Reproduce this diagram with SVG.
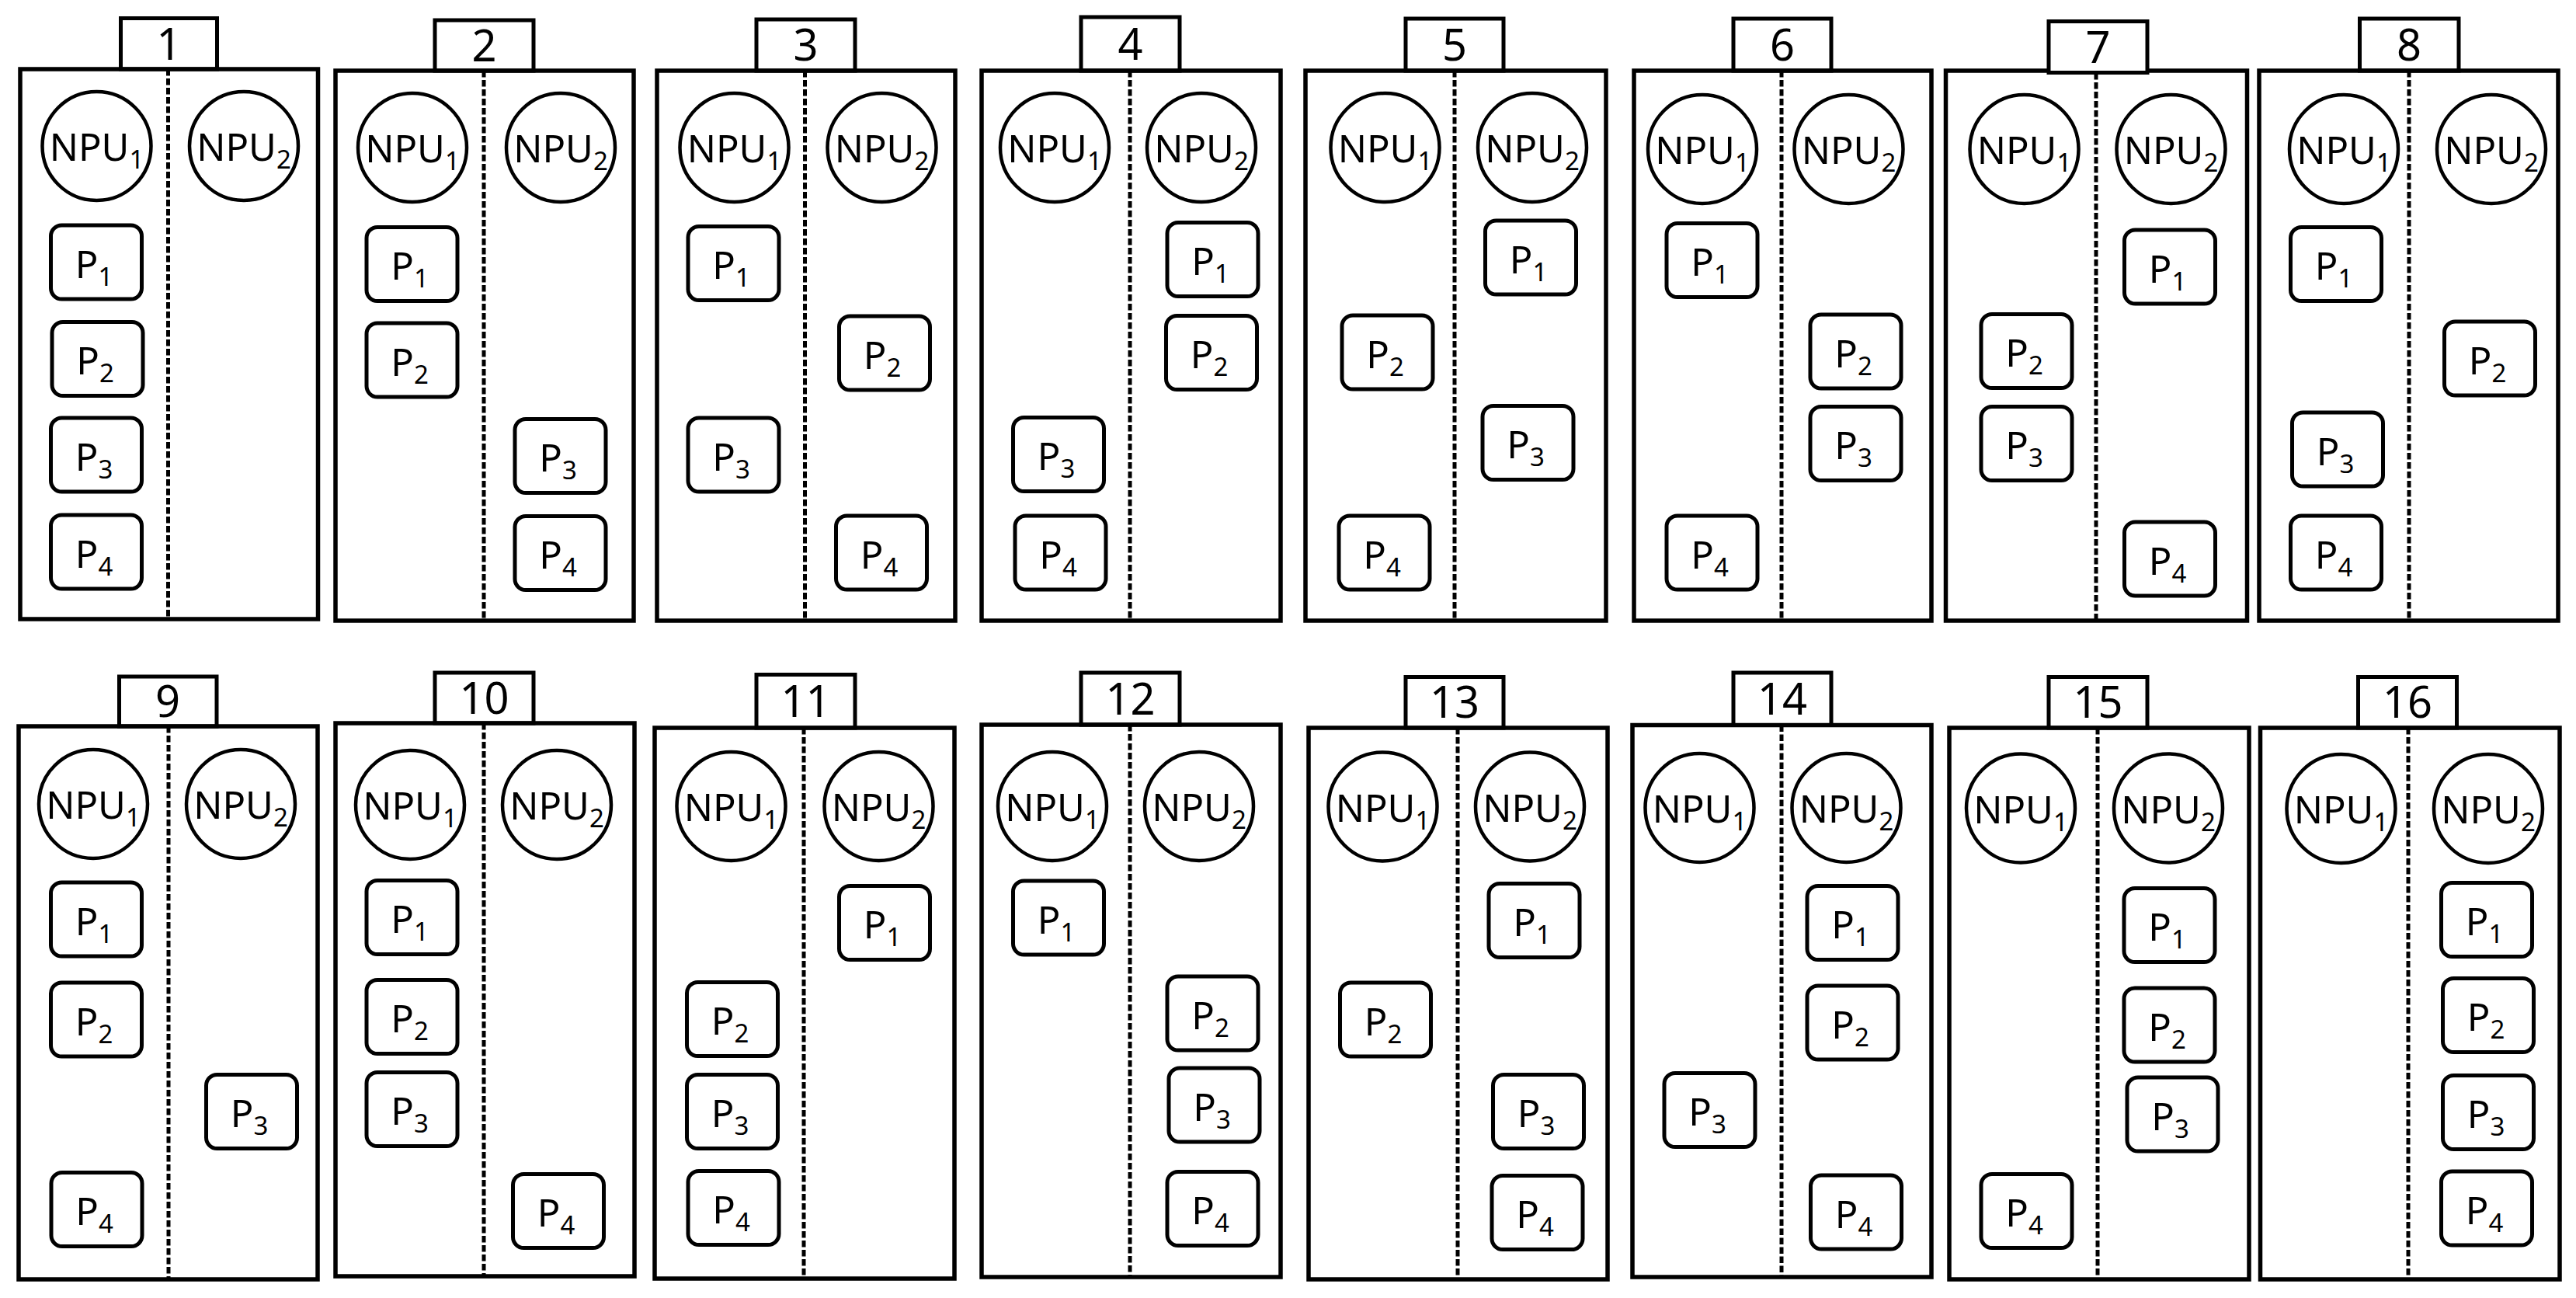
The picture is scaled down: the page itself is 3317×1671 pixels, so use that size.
<svg xmlns="http://www.w3.org/2000/svg" width="3317" height="1671" viewBox="0 0 3317 1671">
<style>
.box{fill:none;stroke:#000;stroke-width:5.5}
.tab{fill:#fff;stroke:#000;stroke-width:5}
.div{stroke:#000;stroke-width:5;stroke-dasharray:8.5 3.5}
.npu{fill:none;stroke:#000;stroke-width:4.5}
.p{fill:none;stroke:#000;stroke-width:5}
text{font-family:"Noto Sans","Open Sans",sans-serif;fill:#000}
.lbl{font-size:49px;text-anchor:middle}
.num{font-size:56px;text-anchor:middle}
.sub{font-size:33px}
</style>
<rect width="3317" height="1671" fill="#fff"/>
<g id="connectors"/>

<g id="panel1">
<rect class="tab" x="155.5" y="23.5" width="124" height="65.5"/>
<rect class="box" x="26" y="89" width="383.5" height="708"/>
<line class="div" x1="216.5" y1="89" x2="216.5" y2="797"/>
<text class="num" x="217.5" y="77">1</text>
<g id="panel1-npu1"><circle class="npu" cx="124.5" cy="188" r="70"/><text class="lbl" x="124.5" y="207">NPU<tspan class="sub" dy="10">1</tspan></text></g>
<g id="panel1-npu2"><circle class="npu" cx="314" cy="188" r="70"/><text class="lbl" x="314" y="207">NPU<tspan class="sub" dy="10">2</tspan></text></g>
<g id="panel1-p1"><rect class="p" x="65.5" y="290" width="117" height="95" rx="14"/><text class="lbl" x="121" y="357.5">P<tspan class="sub" dy="10">1</tspan></text></g>
<g id="panel1-p2"><rect class="p" x="67" y="414.5" width="117" height="95" rx="14"/><text class="lbl" x="122.5" y="482">P<tspan class="sub" dy="10">2</tspan></text></g>
<g id="panel1-p3"><rect class="p" x="65.5" y="538" width="117" height="95" rx="14"/><text class="lbl" x="121" y="605.5">P<tspan class="sub" dy="10">3</tspan></text></g>
<g id="panel1-p4"><rect class="p" x="65.5" y="663" width="117" height="95" rx="14"/><text class="lbl" x="121" y="730.5">P<tspan class="sub" dy="10">4</tspan></text></g>
</g>

<g id="panel2">
<rect class="tab" x="560" y="26" width="127" height="65"/>
<rect class="box" x="432" y="91" width="384" height="708"/>
<line class="div" x1="623" y1="91" x2="623" y2="799"/>
<text class="num" x="623.5" y="78.5">2</text>
<g id="panel2-npu1"><circle class="npu" cx="531" cy="190" r="70"/><text class="lbl" x="531" y="209">NPU<tspan class="sub" dy="10">1</tspan></text></g>
<g id="panel2-npu2"><circle class="npu" cx="722" cy="190" r="70"/><text class="lbl" x="722" y="209">NPU<tspan class="sub" dy="10">2</tspan></text></g>
<g id="panel2-p1"><rect class="p" x="472" y="292.5" width="117" height="95" rx="14"/><text class="lbl" x="527.5" y="360">P<tspan class="sub" dy="10">1</tspan></text></g>
<g id="panel2-p2"><rect class="p" x="472" y="416" width="117" height="95" rx="14"/><text class="lbl" x="527.5" y="483.5">P<tspan class="sub" dy="10">2</tspan></text></g>
<g id="panel2-p3"><rect class="p" x="663" y="539.5" width="117" height="95" rx="14"/><text class="lbl" x="718.5" y="607">P<tspan class="sub" dy="10">3</tspan></text></g>
<g id="panel2-p4"><rect class="p" x="663" y="664.5" width="117" height="95" rx="14"/><text class="lbl" x="718.5" y="732">P<tspan class="sub" dy="10">4</tspan></text></g>
</g>

<g id="panel3">
<rect class="tab" x="974" y="25" width="127" height="66"/>
<rect class="box" x="846" y="91" width="384" height="708"/>
<line class="div" x1="1036.5" y1="91" x2="1036.5" y2="799"/>
<text class="num" x="1037.5" y="78">3</text>
<g id="panel3-npu1"><circle class="npu" cx="945.5" cy="190" r="70"/><text class="lbl" x="945.5" y="209">NPU<tspan class="sub" dy="10">1</tspan></text></g>
<g id="panel3-npu2"><circle class="npu" cx="1135.5" cy="190" r="70"/><text class="lbl" x="1135.5" y="209">NPU<tspan class="sub" dy="10">2</tspan></text></g>
<g id="panel3-p1"><rect class="p" x="886" y="291.5" width="117" height="95" rx="14"/><text class="lbl" x="941.5" y="359">P<tspan class="sub" dy="10">1</tspan></text></g>
<g id="panel3-p2"><rect class="p" x="1080.5" y="407" width="117" height="95" rx="14"/><text class="lbl" x="1136" y="474.5">P<tspan class="sub" dy="10">2</tspan></text></g>
<g id="panel3-p3"><rect class="p" x="886" y="538" width="117" height="95" rx="14"/><text class="lbl" x="941.5" y="605.5">P<tspan class="sub" dy="10">3</tspan></text></g>
<g id="panel3-p4"><rect class="p" x="1076.5" y="664" width="117" height="95" rx="14"/><text class="lbl" x="1132" y="731.5">P<tspan class="sub" dy="10">4</tspan></text></g>
</g>

<g id="panel4">
<rect class="tab" x="1392" y="22" width="127" height="69"/>
<rect class="box" x="1264" y="91" width="385" height="708"/>
<line class="div" x1="1455" y1="91" x2="1455" y2="799"/>
<text class="num" x="1455.5" y="76.5">4</text>
<g id="panel4-npu1"><circle class="npu" cx="1358" cy="190" r="70"/><text class="lbl" x="1358" y="209">NPU<tspan class="sub" dy="10">1</tspan></text></g>
<g id="panel4-npu2"><circle class="npu" cx="1547" cy="190" r="70"/><text class="lbl" x="1547" y="209">NPU<tspan class="sub" dy="10">2</tspan></text></g>
<g id="panel4-p1"><rect class="p" x="1503" y="286.5" width="117" height="95" rx="14"/><text class="lbl" x="1558.5" y="354">P<tspan class="sub" dy="10">1</tspan></text></g>
<g id="panel4-p2"><rect class="p" x="1501.5" y="406.5" width="117" height="95" rx="14"/><text class="lbl" x="1557" y="474">P<tspan class="sub" dy="10">2</tspan></text></g>
<g id="panel4-p3"><rect class="p" x="1304.5" y="537.5" width="117" height="95" rx="14"/><text class="lbl" x="1360" y="605">P<tspan class="sub" dy="10">3</tspan></text></g>
<g id="panel4-p4"><rect class="p" x="1307" y="664" width="117" height="95" rx="14"/><text class="lbl" x="1362.5" y="731.5">P<tspan class="sub" dy="10">4</tspan></text></g>
</g>

<g id="panel5">
<rect class="tab" x="1810" y="24" width="126" height="67"/>
<rect class="box" x="1681" y="91" width="387" height="708"/>
<line class="div" x1="1873" y1="91" x2="1873" y2="799"/>
<text class="num" x="1873" y="77.5">5</text>
<g id="panel5-npu1"><circle class="npu" cx="1783.5" cy="190" r="70"/><text class="lbl" x="1783.5" y="209">NPU<tspan class="sub" dy="10">1</tspan></text></g>
<g id="panel5-npu2"><circle class="npu" cx="1973" cy="190" r="70"/><text class="lbl" x="1973" y="209">NPU<tspan class="sub" dy="10">2</tspan></text></g>
<g id="panel5-p1"><rect class="p" x="1912.5" y="284" width="117" height="95" rx="14"/><text class="lbl" x="1968" y="351.5">P<tspan class="sub" dy="10">1</tspan></text></g>
<g id="panel5-p2"><rect class="p" x="1728" y="406" width="117" height="95" rx="14"/><text class="lbl" x="1783.5" y="473.5">P<tspan class="sub" dy="10">2</tspan></text></g>
<g id="panel5-p3"><rect class="p" x="1909" y="522.5" width="117" height="95" rx="14"/><text class="lbl" x="1964.5" y="590">P<tspan class="sub" dy="10">3</tspan></text></g>
<g id="panel5-p4"><rect class="p" x="1724" y="664" width="117" height="95" rx="14"/><text class="lbl" x="1779.5" y="731.5">P<tspan class="sub" dy="10">4</tspan></text></g>
</g>

<g id="panel6">
<rect class="tab" x="2232" y="24" width="126" height="67"/>
<rect class="box" x="2104" y="91" width="383" height="708"/>
<line class="div" x1="2294" y1="91" x2="2294" y2="799"/>
<text class="num" x="2295" y="77.5">6</text>
<g id="panel6-npu1"><circle class="npu" cx="2192" cy="192" r="70"/><text class="lbl" x="2192" y="211">NPU<tspan class="sub" dy="10">1</tspan></text></g>
<g id="panel6-npu2"><circle class="npu" cx="2380.5" cy="192" r="70"/><text class="lbl" x="2380.5" y="211">NPU<tspan class="sub" dy="10">2</tspan></text></g>
<g id="panel6-p1"><rect class="p" x="2146" y="287.5" width="117" height="95" rx="14"/><text class="lbl" x="2201.5" y="355">P<tspan class="sub" dy="10">1</tspan></text></g>
<g id="panel6-p2"><rect class="p" x="2331" y="405" width="117" height="95" rx="14"/><text class="lbl" x="2386.5" y="472.5">P<tspan class="sub" dy="10">2</tspan></text></g>
<g id="panel6-p3"><rect class="p" x="2331" y="523.5" width="117" height="95" rx="14"/><text class="lbl" x="2386.5" y="591">P<tspan class="sub" dy="10">3</tspan></text></g>
<g id="panel6-p4"><rect class="p" x="2146" y="664" width="117" height="95" rx="14"/><text class="lbl" x="2201.5" y="731.5">P<tspan class="sub" dy="10">4</tspan></text></g>
</g>

<g id="panel7">
<rect class="box" x="2505.5" y="91" width="388" height="708"/>
<rect class="tab" x="2638" y="27.5" width="127" height="66"/>
<line class="div" x1="2699" y1="94" x2="2699" y2="799"/>
<text class="num" x="2701.5" y="80.5">7</text>
<g id="panel7-npu1"><circle class="npu" cx="2606.5" cy="192" r="70"/><text class="lbl" x="2606.5" y="211">NPU<tspan class="sub" dy="10">1</tspan></text></g>
<g id="panel7-npu2"><circle class="npu" cx="2795.5" cy="192" r="70"/><text class="lbl" x="2795.5" y="211">NPU<tspan class="sub" dy="10">2</tspan></text></g>
<g id="panel7-p1"><rect class="p" x="2735.5" y="296" width="117" height="95" rx="14"/><text class="lbl" x="2791" y="363.5">P<tspan class="sub" dy="10">1</tspan></text></g>
<g id="panel7-p2"><rect class="p" x="2551" y="404.5" width="117" height="95" rx="14"/><text class="lbl" x="2606.5" y="472">P<tspan class="sub" dy="10">2</tspan></text></g>
<g id="panel7-p3"><rect class="p" x="2551" y="523.5" width="117" height="95" rx="14"/><text class="lbl" x="2606.5" y="591">P<tspan class="sub" dy="10">3</tspan></text></g>
<g id="panel7-p4"><rect class="p" x="2735.5" y="672" width="117" height="95" rx="14"/><text class="lbl" x="2791" y="739.5">P<tspan class="sub" dy="10">4</tspan></text></g>
</g>

<g id="panel8">
<rect class="tab" x="3038.5" y="24" width="127.5" height="67"/>
<rect class="box" x="2909" y="91" width="385" height="708"/>
<line class="div" x1="3102" y1="91" x2="3102" y2="799"/>
<text class="num" x="3102" y="77.5">8</text>
<g id="panel8-npu1"><circle class="npu" cx="3018" cy="192" r="70"/><text class="lbl" x="3018" y="211">NPU<tspan class="sub" dy="10">1</tspan></text></g>
<g id="panel8-npu2"><circle class="npu" cx="3208" cy="192" r="70"/><text class="lbl" x="3208" y="211">NPU<tspan class="sub" dy="10">2</tspan></text></g>
<g id="panel8-p1"><rect class="p" x="2949.5" y="292.5" width="117" height="95" rx="14"/><text class="lbl" x="3005" y="360">P<tspan class="sub" dy="10">1</tspan></text></g>
<g id="panel8-p2"><rect class="p" x="3147.5" y="414" width="117" height="95" rx="14"/><text class="lbl" x="3203" y="481.5">P<tspan class="sub" dy="10">2</tspan></text></g>
<g id="panel8-p3"><rect class="p" x="2951.5" y="531" width="117" height="95" rx="14"/><text class="lbl" x="3007" y="598.5">P<tspan class="sub" dy="10">3</tspan></text></g>
<g id="panel8-p4"><rect class="p" x="2949.5" y="664" width="117" height="95" rx="14"/><text class="lbl" x="3005" y="731.5">P<tspan class="sub" dy="10">4</tspan></text></g>
</g>

<g id="panel9">
<rect class="tab" x="153.5" y="871" width="125.5" height="64"/>
<rect class="box" x="24" y="935" width="385" height="712"/>
<line class="div" x1="217" y1="935" x2="217" y2="1647"/>
<text class="num" x="216" y="923">9</text>
<g id="panel9-npu1"><circle class="npu" cx="120" cy="1035" r="70"/><text class="lbl" x="120" y="1054">NPU<tspan class="sub" dy="10">1</tspan></text></g>
<g id="panel9-npu2"><circle class="npu" cx="310" cy="1035" r="70"/><text class="lbl" x="310" y="1054">NPU<tspan class="sub" dy="10">2</tspan></text></g>
<g id="panel9-p1"><rect class="p" x="65.5" y="1136" width="117" height="95" rx="14"/><text class="lbl" x="121" y="1203.5">P<tspan class="sub" dy="10">1</tspan></text></g>
<g id="panel9-p2"><rect class="p" x="65.5" y="1265" width="117" height="95" rx="14"/><text class="lbl" x="121" y="1332.5">P<tspan class="sub" dy="10">2</tspan></text></g>
<g id="panel9-p3"><rect class="p" x="265.5" y="1383.5" width="117" height="95" rx="14"/><text class="lbl" x="321" y="1451">P<tspan class="sub" dy="10">3</tspan></text></g>
<g id="panel9-p4"><rect class="p" x="66" y="1509.5" width="117" height="95" rx="14"/><text class="lbl" x="121.5" y="1577">P<tspan class="sub" dy="10">4</tspan></text></g>
</g>

<g id="panel10">
<rect class="tab" x="560" y="866" width="127" height="65"/>
<rect class="box" x="432" y="931" width="385" height="712"/>
<line class="div" x1="623" y1="931" x2="623" y2="1643"/>
<text class="num" x="623.5" y="918.5">10</text>
<g id="panel10-npu1"><circle class="npu" cx="528" cy="1036" r="70"/><text class="lbl" x="528" y="1055">NPU<tspan class="sub" dy="10">1</tspan></text></g>
<g id="panel10-npu2"><circle class="npu" cx="717" cy="1036" r="70"/><text class="lbl" x="717" y="1055">NPU<tspan class="sub" dy="10">2</tspan></text></g>
<g id="panel10-p1"><rect class="p" x="472" y="1133.5" width="117" height="95" rx="14"/><text class="lbl" x="527.5" y="1201">P<tspan class="sub" dy="10">1</tspan></text></g>
<g id="panel10-p2"><rect class="p" x="472" y="1261.5" width="117" height="95" rx="14"/><text class="lbl" x="527.5" y="1329">P<tspan class="sub" dy="10">2</tspan></text></g>
<g id="panel10-p3"><rect class="p" x="472" y="1380.5" width="117" height="95" rx="14"/><text class="lbl" x="527.5" y="1448">P<tspan class="sub" dy="10">3</tspan></text></g>
<g id="panel10-p4"><rect class="p" x="660.5" y="1511.5" width="117" height="95" rx="14"/><text class="lbl" x="716" y="1579">P<tspan class="sub" dy="10">4</tspan></text></g>
</g>

<g id="panel11">
<rect class="tab" x="974" y="868.5" width="127" height="68.5"/>
<rect class="box" x="843" y="937" width="386" height="709"/>
<line class="div" x1="1035" y1="937" x2="1035" y2="1646"/>
<text class="num" x="1037.5" y="922.5">11</text>
<g id="panel11-npu1"><circle class="npu" cx="941.5" cy="1038" r="70"/><text class="lbl" x="941.5" y="1057">NPU<tspan class="sub" dy="10">1</tspan></text></g>
<g id="panel11-npu2"><circle class="npu" cx="1131.5" cy="1038" r="70"/><text class="lbl" x="1131.5" y="1057">NPU<tspan class="sub" dy="10">2</tspan></text></g>
<g id="panel11-p1"><rect class="p" x="1080.5" y="1140.5" width="117" height="95" rx="14"/><text class="lbl" x="1136" y="1208">P<tspan class="sub" dy="10">1</tspan></text></g>
<g id="panel11-p2"><rect class="p" x="884.5" y="1264.5" width="117" height="95" rx="14"/><text class="lbl" x="940" y="1332">P<tspan class="sub" dy="10">2</tspan></text></g>
<g id="panel11-p3"><rect class="p" x="884.5" y="1383.5" width="117" height="95" rx="14"/><text class="lbl" x="940" y="1451">P<tspan class="sub" dy="10">3</tspan></text></g>
<g id="panel11-p4"><rect class="p" x="886" y="1507.5" width="117" height="95" rx="14"/><text class="lbl" x="941.5" y="1575">P<tspan class="sub" dy="10">4</tspan></text></g>
</g>

<g id="panel12">
<rect class="tab" x="1392" y="866" width="127" height="67"/>
<rect class="box" x="1264" y="933" width="385" height="711"/>
<line class="div" x1="1455" y1="933" x2="1455" y2="1644"/>
<text class="num" x="1455.5" y="919.5">12</text>
<g id="panel12-npu1"><circle class="npu" cx="1355" cy="1038" r="70"/><text class="lbl" x="1355" y="1057">NPU<tspan class="sub" dy="10">1</tspan></text></g>
<g id="panel12-npu2"><circle class="npu" cx="1544" cy="1038" r="70"/><text class="lbl" x="1544" y="1057">NPU<tspan class="sub" dy="10">2</tspan></text></g>
<g id="panel12-p1"><rect class="p" x="1304.5" y="1134" width="117" height="95" rx="14"/><text class="lbl" x="1360" y="1201.5">P<tspan class="sub" dy="10">1</tspan></text></g>
<g id="panel12-p2"><rect class="p" x="1503" y="1257" width="117" height="95" rx="14"/><text class="lbl" x="1558.5" y="1324.5">P<tspan class="sub" dy="10">2</tspan></text></g>
<g id="panel12-p3"><rect class="p" x="1505" y="1375" width="117" height="95" rx="14"/><text class="lbl" x="1560.5" y="1442.5">P<tspan class="sub" dy="10">3</tspan></text></g>
<g id="panel12-p4"><rect class="p" x="1503" y="1508.5" width="117" height="95" rx="14"/><text class="lbl" x="1558.5" y="1576">P<tspan class="sub" dy="10">4</tspan></text></g>
</g>

<g id="panel13">
<rect class="tab" x="1810" y="871.5" width="126" height="65.5"/>
<rect class="box" x="1685" y="937" width="385" height="710"/>
<line class="div" x1="1877" y1="937" x2="1877" y2="1647"/>
<text class="num" x="1873" y="924">13</text>
<g id="panel13-npu1"><circle class="npu" cx="1780.5" cy="1038.5" r="70"/><text class="lbl" x="1780.5" y="1057.5">NPU<tspan class="sub" dy="10">1</tspan></text></g>
<g id="panel13-npu2"><circle class="npu" cx="1970" cy="1038.5" r="70"/><text class="lbl" x="1970" y="1057.5">NPU<tspan class="sub" dy="10">2</tspan></text></g>
<g id="panel13-p1"><rect class="p" x="1917" y="1137.5" width="117" height="95" rx="14"/><text class="lbl" x="1972.5" y="1205">P<tspan class="sub" dy="10">1</tspan></text></g>
<g id="panel13-p2"><rect class="p" x="1725.5" y="1265" width="117" height="95" rx="14"/><text class="lbl" x="1781" y="1332.5">P<tspan class="sub" dy="10">2</tspan></text></g>
<g id="panel13-p3"><rect class="p" x="1922.5" y="1383.5" width="117" height="95" rx="14"/><text class="lbl" x="1978" y="1451">P<tspan class="sub" dy="10">3</tspan></text></g>
<g id="panel13-p4"><rect class="p" x="1921" y="1513.5" width="117" height="95" rx="14"/><text class="lbl" x="1976.5" y="1581">P<tspan class="sub" dy="10">4</tspan></text></g>
</g>

<g id="panel14">
<rect class="tab" x="2232" y="866" width="126" height="67.5"/>
<rect class="box" x="2102" y="933.5" width="385" height="710.5"/>
<line class="div" x1="2294" y1="933.5" x2="2294" y2="1644"/>
<text class="num" x="2295" y="920">14</text>
<g id="panel14-npu1"><circle class="npu" cx="2188.5" cy="1040" r="70"/><text class="lbl" x="2188.5" y="1059">NPU<tspan class="sub" dy="10">1</tspan></text></g>
<g id="panel14-npu2"><circle class="npu" cx="2377.5" cy="1040" r="70"/><text class="lbl" x="2377.5" y="1059">NPU<tspan class="sub" dy="10">2</tspan></text></g>
<g id="panel14-p1"><rect class="p" x="2327" y="1140.5" width="117" height="95" rx="14"/><text class="lbl" x="2382.5" y="1208">P<tspan class="sub" dy="10">1</tspan></text></g>
<g id="panel14-p2"><rect class="p" x="2327" y="1269" width="117" height="95" rx="14"/><text class="lbl" x="2382.5" y="1336.5">P<tspan class="sub" dy="10">2</tspan></text></g>
<g id="panel14-p3"><rect class="p" x="2143" y="1381.5" width="117" height="95" rx="14"/><text class="lbl" x="2198.5" y="1449">P<tspan class="sub" dy="10">3</tspan></text></g>
<g id="panel14-p4"><rect class="p" x="2331.5" y="1513" width="117" height="95" rx="14"/><text class="lbl" x="2387" y="1580.5">P<tspan class="sub" dy="10">4</tspan></text></g>
</g>

<g id="panel15">
<rect class="tab" x="2638" y="871.5" width="127" height="65.5"/>
<rect class="box" x="2510" y="937" width="386" height="710"/>
<line class="div" x1="2701" y1="937" x2="2701" y2="1647"/>
<text class="num" x="2701.5" y="924">15</text>
<g id="panel15-npu1"><circle class="npu" cx="2602" cy="1040.5" r="70"/><text class="lbl" x="2602" y="1059.5">NPU<tspan class="sub" dy="10">1</tspan></text></g>
<g id="panel15-npu2"><circle class="npu" cx="2792" cy="1040.5" r="70"/><text class="lbl" x="2792" y="1059.5">NPU<tspan class="sub" dy="10">2</tspan></text></g>
<g id="panel15-p1"><rect class="p" x="2735" y="1143.5" width="117" height="95" rx="14"/><text class="lbl" x="2790.5" y="1211">P<tspan class="sub" dy="10">1</tspan></text></g>
<g id="panel15-p2"><rect class="p" x="2735" y="1272" width="117" height="95" rx="14"/><text class="lbl" x="2790.5" y="1339.5">P<tspan class="sub" dy="10">2</tspan></text></g>
<g id="panel15-p3"><rect class="p" x="2739" y="1387" width="117" height="95" rx="14"/><text class="lbl" x="2794.5" y="1454.5">P<tspan class="sub" dy="10">3</tspan></text></g>
<g id="panel15-p4"><rect class="p" x="2551" y="1511.5" width="117" height="95" rx="14"/><text class="lbl" x="2606.5" y="1579">P<tspan class="sub" dy="10">4</tspan></text></g>
</g>

<g id="panel16">
<rect class="tab" x="3036.5" y="871.5" width="127" height="65.5"/>
<rect class="box" x="2910.5" y="937" width="385.5" height="710"/>
<line class="div" x1="3101" y1="937" x2="3101" y2="1647"/>
<text class="num" x="3100" y="924">16</text>
<g id="panel16-npu1"><circle class="npu" cx="3014.5" cy="1041" r="70"/><text class="lbl" x="3014.5" y="1060">NPU<tspan class="sub" dy="10">1</tspan></text></g>
<g id="panel16-npu2"><circle class="npu" cx="3204" cy="1041" r="70"/><text class="lbl" x="3204" y="1060">NPU<tspan class="sub" dy="10">2</tspan></text></g>
<g id="panel16-p1"><rect class="p" x="3143.5" y="1136.5" width="117" height="95" rx="14"/><text class="lbl" x="3199" y="1204">P<tspan class="sub" dy="10">1</tspan></text></g>
<g id="panel16-p2"><rect class="p" x="3145.5" y="1259.5" width="117" height="95" rx="14"/><text class="lbl" x="3201" y="1327">P<tspan class="sub" dy="10">2</tspan></text></g>
<g id="panel16-p3"><rect class="p" x="3145.5" y="1384.5" width="117" height="95" rx="14"/><text class="lbl" x="3201" y="1452">P<tspan class="sub" dy="10">3</tspan></text></g>
<g id="panel16-p4"><rect class="p" x="3143.5" y="1508" width="117" height="95" rx="14"/><text class="lbl" x="3199" y="1575.5">P<tspan class="sub" dy="10">4</tspan></text></g>
</g>
</svg>
